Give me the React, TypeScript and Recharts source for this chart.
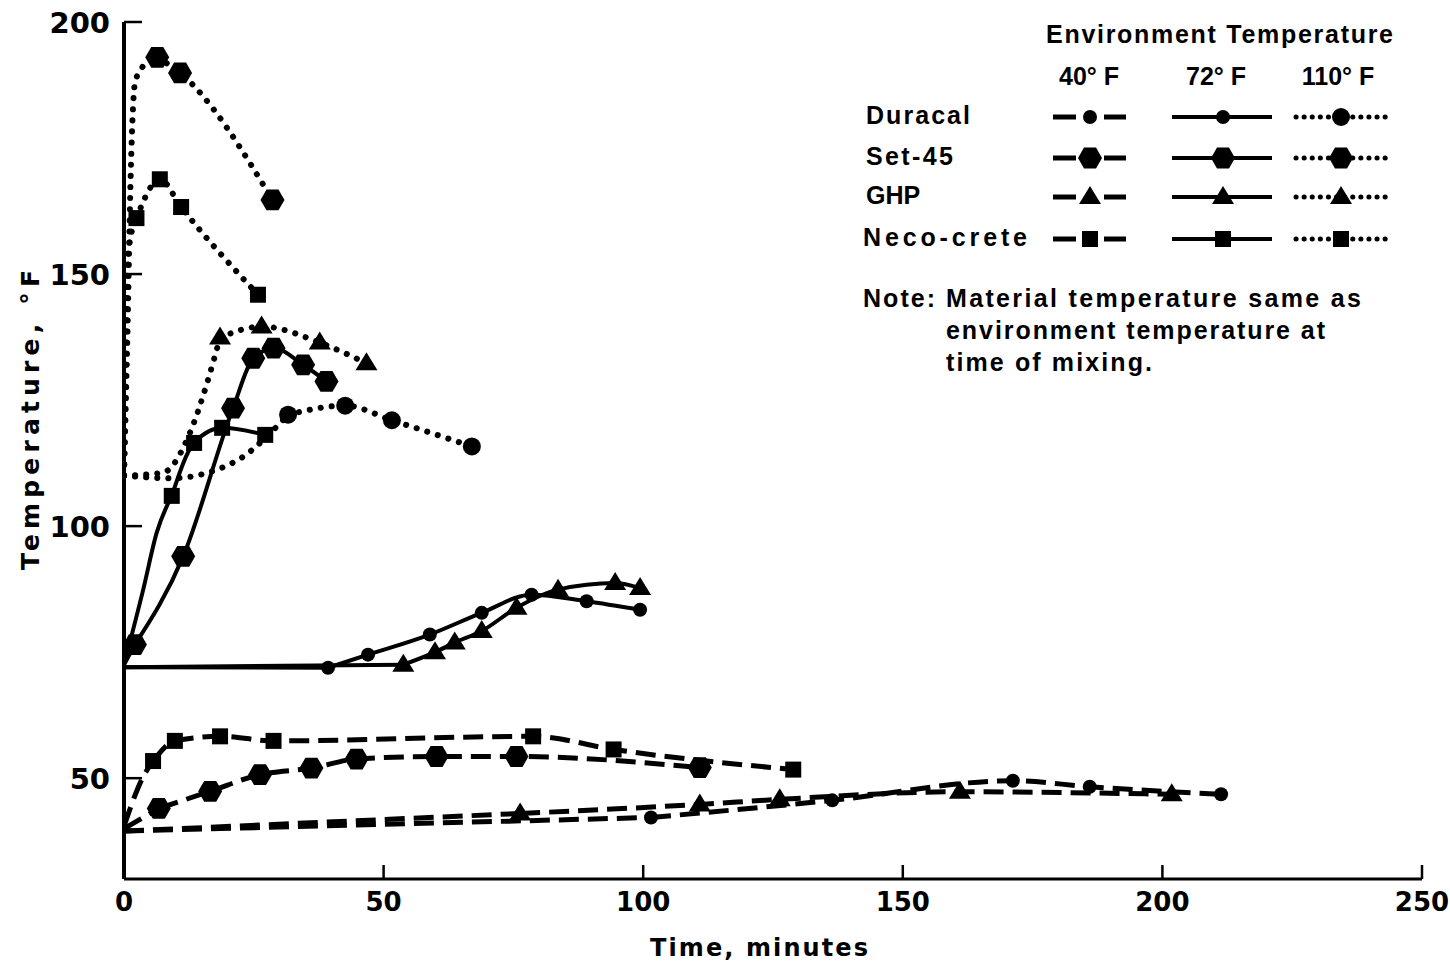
import React from "react"
import { LineChart, Line, XAxis, YAxis } from "recharts"

type Pt = [number, number]

const xTicks = [0, 50, 100, 150, 200, 250]
const yTicks = [50, 100, 150, 200]

const envLabels = ["40° F", "72° F", "110° F"]
const materials = ["Duracal", "Set-45", "GHP", "Neco-crete"]
const noteLines = ["Material temperature same as", "environment temperature at", "time of mixing."]

// "lead" = unmarked run-in of each curve, "marks" = plotted readings

// Duracal
const duracal40Lead: Pt[] = [[0, 39.5], [101.5, 42.2]]
const duracal40: Pt[] = [[101.5, 42.2], [136.4, 45.6], [171.2, 49.5], [186, 48.3], [211.3, 46.8]]
const duracal72Lead: Pt[] = [[0, 72], [39.3, 71.9]]
const duracal72: Pt[] = [[39.3, 71.9], [47, 74.5], [58.9, 78.5], [68.9, 82.8], [78.5, 86.4], [89.1, 85.1], [99.4, 83.4]]
const duracal110Lead: Pt[] = [[0, 110], [9, 109.5], [17.9, 111.2], [23, 113.8], [28.8, 119.1], [31.6, 122.1]]
const duracal110: Pt[] = [[31.6, 122.1], [42.6, 123.9], [51.6, 121], [67, 115.8]]

// Set-45
const set4540Lead: Pt[] = [[0, 40], [6.7, 44]]
const set4540: Pt[] = [[6.7, 44], [16.6, 47.4], [26.2, 50.7], [36.1, 52], [44.8, 53.8], [60.2, 54.3], [75.6, 54.3], [110.9, 52.1]]
const set4572Lead: Pt[] = [[0, 72.5], [2.1, 76.5]]
const set4572: Pt[] = [[2.1, 76.5], [11.4, 94], [21, 123.4], [24.9, 133.3], [28.8, 135.3], [34.5, 132], [39, 128.7]]
const set45110Lead: Pt[] = [[0, 110], [0.7, 140], [1.3, 170], [2.1, 187.8], [3.5, 191], [6.4, 193]]
const set45110: Pt[] = [[6.4, 193], [10.8, 189.9], [28.6, 164.7]]

// GHP
const ghp40Lead: Pt[] = [[0, 39.5], [76.3, 43]]
const ghp40: Pt[] = [[76.3, 43], [110.9, 44.8], [126.3, 45.8], [161, 47.3], [201.8, 46.8]]
const ghp72Lead: Pt[] = [[0, 72], [53.8, 72.5]]
const ghp72: Pt[] = [[53.8, 72.5], [59.9, 75], [63.7, 76.9], [68.9, 79.2], [75.6, 83.8], [83.6, 87.4], [94.6, 88.7], [99.4, 87.7]]
const ghp110Lead: Pt[] = [[0, 110], [7.5, 110.6], [12.7, 118.5], [16, 128.4], [18.5, 137.4]]
const ghp110: Pt[] = [[18.5, 137.4], [26.5, 139.6], [37.7, 136.4], [46.7, 132.3]]

// Neco-crete
const neco40Lead: Pt[] = [[0, 40.5], [3.7, 50.3], [5.6, 53.4]]
const neco40: Pt[] = [[5.6, 53.4], [9.8, 57.4], [18.5, 58.3], [28.8, 57.4], [78.8, 58.3], [94.3, 55.7], [128.9, 51.7]]
const neco72Lead: Pt[] = [[0, 72.5], [3.7, 87.4], [6.3, 98.7], [9.2, 106]]
const neco72: Pt[] = [[9.2, 106], [13.5, 116.5], [18.9, 119.5], [27.2, 118.1]]
const neco110Lead: Pt[] = [[0, 110], [0.8, 154], [2.4, 161.1]]
const neco110: Pt[] = [[2.4, 161.1], [6.9, 168.8], [11, 163.3], [25.8, 145.9]]

const FONT = "'Liberation Sans', Arial, sans-serif"
const NUM_FONT = "'DejaVu Sans', sans-serif"

type Shape = "circle" | "hex" | "tri" | "sq"
type Env = 0 | 1 | 2

const shapes: Shape[] = ["circle", "hex", "tri", "sq"]

const envStroke = [
  { strokeWidth: 5, strokeDasharray: "20 9", strokeLinecap: "butt" as const },
  { strokeWidth: 4, strokeDasharray: undefined, strokeLinecap: "butt" as const },
  { strokeWidth: 6, strokeDasharray: "0.1 11", strokeLinecap: "round" as const },
]

const series: { id: string; lead: Pt[]; marks: Pt[]; shape: Shape; env: Env }[] = [
  { id: "dur40", lead: duracal40Lead, marks: duracal40, shape: "circle", env: 0 },
  { id: "dur72", lead: duracal72Lead, marks: duracal72, shape: "circle", env: 1 },
  { id: "dur110", lead: duracal110Lead, marks: duracal110, shape: "circle", env: 2 },
  { id: "set40", lead: set4540Lead, marks: set4540, shape: "hex", env: 0 },
  { id: "set72", lead: set4572Lead, marks: set4572, shape: "hex", env: 1 },
  { id: "set110", lead: set45110Lead, marks: set45110, shape: "hex", env: 2 },
  { id: "ghp40", lead: ghp40Lead, marks: ghp40, shape: "tri", env: 0 },
  { id: "ghp72", lead: ghp72Lead, marks: ghp72, shape: "tri", env: 1 },
  { id: "ghp110", lead: ghp110Lead, marks: ghp110, shape: "tri", env: 2 },
  { id: "neco40", lead: neco40Lead, marks: neco40, shape: "sq", env: 0 },
  { id: "neco72", lead: neco72Lead, marks: neco72, shape: "sq", env: 1 },
  { id: "neco110", lead: neco110Lead, marks: neco110, shape: "sq", env: 2 },
]

const rows = (pts: Pt[]) => pts.map(([t, v]) => ({ t, v }))

function Marker({ shape, cx, cy, env }: { shape: Shape; cx: number; cy: number; env: Env }) {
  if (shape === "circle") return <circle cx={cx} cy={cy} r={env === 2 ? 9 : 7} fill="#000" />
  if (shape === "hex") {
    const r = 12
    const pts = [0, 1, 2, 3, 4, 5]
      .map((i) => `${cx + r * Math.cos((Math.PI / 3) * i)},${cy + r * Math.sin((Math.PI / 3) * i)}`)
      .join(" ")
    return <polygon points={pts} fill="#000" />
  }
  if (shape === "tri") return <polygon points={`${cx},${cy - 11} ${cx + 11},${cy + 7} ${cx - 11},${cy + 7}`} fill="#000" />
  return <rect x={cx - 8} y={cy - 8} width={16} height={16} fill="#000" />
}

function YTick({ x, y, payload }: any) {
  return (
    <g>
      <line x1={x + 14} x2={x + 32} y1={y} y2={y} stroke="#000" strokeWidth={2.5} />
      <text x={x} y={y + 11} textAnchor="end" fontSize={29} fontWeight="bold" fontFamily={NUM_FONT} fill="#000">
        {payload.value}
      </text>
    </g>
  )
}

function XTick({ x, y, payload }: any) {
  return (
    <g>
      <line x1={x} x2={x} y1={y - 8} y2={y - 22} stroke="#000" strokeWidth={2.5} />
      <text x={x} y={y + 24} textAnchor="middle" fontSize={26} fontWeight="bold" fontFamily={NUM_FONT} fill="#000">
        {payload.value}
      </text>
    </g>
  )
}

const txt = { fontFamily: FONT, fontWeight: "bold" as const, fontSize: 25, fill: "#000" }

function Overlay() {
  const rowY = [115, 156, 195, 237]
  const labelX = [866, 866, 866, 863]
  const labelLen: (number | undefined)[] = [104, 87, undefined, 164]
  const envX = [1089, 1216, 1338]
  return (
    <svg width={1450} height={968} style={{ position: "absolute", left: 0, top: 0, pointerEvents: "none" }}>
      <text {...txt} fontFamily={NUM_FONT} fontSize={25} x={30} y={420} transform="rotate(-90 30 420)" textAnchor="middle" dominantBaseline="central" textLength={300} lengthAdjust="spacing">
        Temperature, °F
      </text>
      <text {...txt} fontFamily={NUM_FONT} fontSize={24} x={759} y={948} textAnchor="middle" dominantBaseline="central" textLength={218} lengthAdjust="spacing">
        Time, minutes
      </text>

      <text {...txt} x={1046} y={34} dominantBaseline="central" textLength={347} lengthAdjust="spacing">
        Environment Temperature
      </text>
      {envLabels.map((e, i) => (
        <text key={e} {...txt} x={envX[i]} y={76} textAnchor="middle" dominantBaseline="central">
          {e}
        </text>
      ))}
      {materials.map((m, r) => (
        <g key={m}>
          <text {...txt} x={labelX[r]} y={rowY[r]} dominantBaseline="central" textLength={labelLen[r]} lengthAdjust="spacing">
            {m}
          </text>
          <line x1={1053} x2={1076} y1={rowY[r] + 2} y2={rowY[r] + 2} stroke="#000" strokeWidth={5} />
          <line x1={1104} x2={1126} y1={rowY[r] + 2} y2={rowY[r] + 2} stroke="#000" strokeWidth={5} />
          <Marker shape={shapes[r]} cx={1090} cy={rowY[r] + 2} env={0} />
          <line x1={1172} x2={1272} y1={rowY[r] + 2} y2={rowY[r] + 2} stroke="#000" strokeWidth={4} />
          <Marker shape={shapes[r]} cx={1223} cy={rowY[r] + 2} env={1} />
          <line x1={1296} x2={1390} y1={rowY[r] + 2} y2={rowY[r] + 2} stroke="#000" strokeWidth={5} strokeDasharray="0.1 8" strokeLinecap="round" />
          <Marker shape={shapes[r]} cx={1341} cy={rowY[r] + 2} env={2} />
        </g>
      ))}
      <text {...txt} x={863} y={298} dominantBaseline="central" textLength={72} lengthAdjust="spacing">
        Note:
      </text>
      {noteLines.map((l, i) => (
        <text key={l} {...txt} x={946} y={298 + i * 32} dominantBaseline="central" textLength={[415, 379, 206][i]} lengthAdjust="spacing">
          {l}
        </text>
      ))}
    </svg>
  )
}

export default function App() {
  return (
    <div style={{ position: "absolute", left: 0, top: 0, width: 1450, height: 968, background: "#fff" }}>
      <LineChart width={1450} height={968} margin={{ top: 22, right: 28, bottom: 0, left: 0 }}>
        <XAxis
          type="number"
          dataKey="t"
          domain={[0, 250]}
          ticks={xTicks}
          height={89}
          tickSize={0}
          tickMargin={8}
          tickLine={false}
          tick={<XTick />}
          axisLine={{ stroke: "#000", strokeWidth: 3 }}
          allowDataOverflow
        />
        <YAxis
          type="number"
          domain={[30, 200]}
          ticks={yTicks}
          width={124}
          tickSize={0}
          tickMargin={14}
          tickLine={false}
          tick={<YTick />}
          axisLine={{ stroke: "#000", strokeWidth: 4 }}
          allowDataOverflow
        />
        {series.map((s) => (
          <Line
            key={s.id + "-lead"}
            data={rows(s.lead)}
            dataKey="v"
            type="monotone"
            stroke="#000"
            {...envStroke[s.env]}
            dot={false}
            activeDot={false}
            isAnimationActive={false}
          />
        ))}
        {series.map((s) => (
          <Line
            key={s.id}
            data={rows(s.marks)}
            dataKey="v"
            type="monotone"
            stroke="#000"
            {...envStroke[s.env]}
            dot={(p: any) => <Marker key={`${s.id}-${p.index}`} shape={s.shape} cx={p.cx} cy={p.cy} env={s.env} />}
            activeDot={false}
            isAnimationActive={false}
          />
        ))}
      </LineChart>
      <Overlay />
    </div>
  )
}
